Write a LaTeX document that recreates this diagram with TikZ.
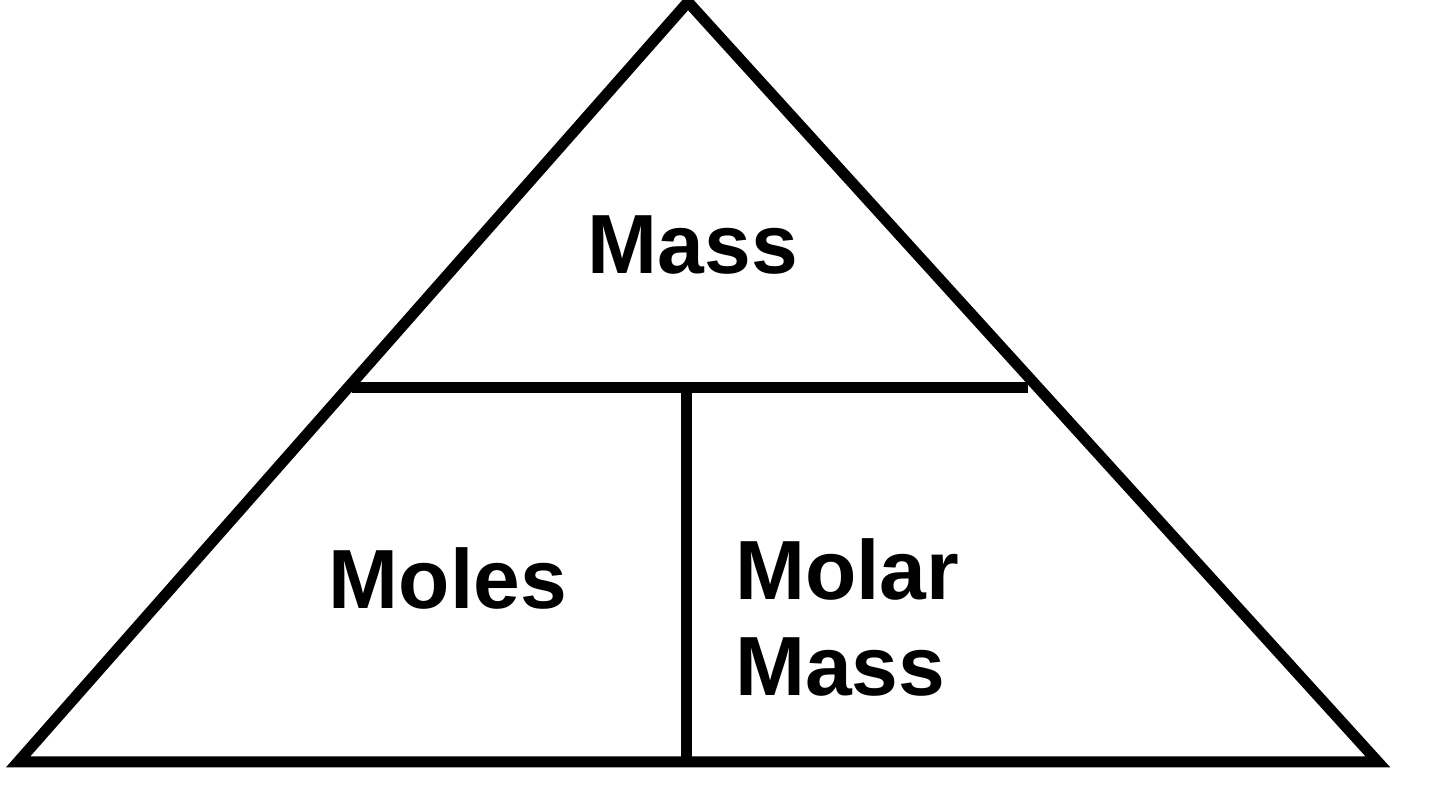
\documentclass[tikz,border=0pt]{standalone}
\usepackage{fontspec}
\setmainfont{Liberation Sans}
\begin{document}
\begin{tikzpicture}[x=1pt,y=1pt,
  edge/.style={line width=11pt,line join=miter},
  lbl/.style={font=\fontsize{84}{96}\selectfont\bfseries,inner sep=0pt}]
\useasboundingbox (0,0) rectangle (1440,802);
\coordinate (apex) at (688,800);
\coordinate (bl) at (18,40);
\coordinate (br) at (1378,40);
\coordinate (ml) at (352,414);
\coordinate (mr) at (1028,414);
\coordinate (vt) at (686,414);
\coordinate (vb) at (686,40);
\draw[edge] (apex) -- (br) -- (bl) -- cycle;
\draw[edge] (ml) -- (mr);
\draw[edge] (vt) -- (vb);
\node[lbl] (mass) at (693,557) {Mass};
\node[lbl] (moles) at (448,224) {Moles};
\node[lbl,align=left,anchor=west] (molar) at (735,185) {Molar\\Mass};
\end{tikzpicture}
\end{document}
